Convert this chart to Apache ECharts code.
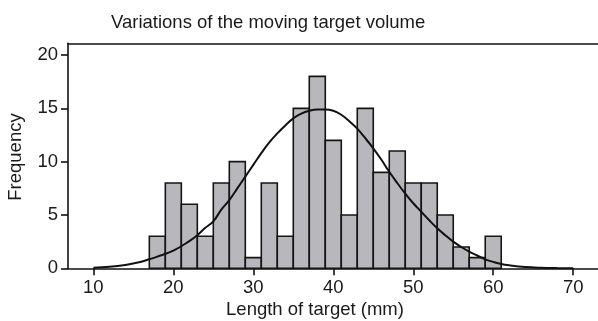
<!DOCTYPE html>
<html>
<head>
<meta charset="utf-8">
<script src="https://cdn.jsdelivr.net/npm/echarts@6/dist/echarts.min.js"></script>
<style>
html,body{margin:0;padding:0;background:#fff;}
#c{width:598px;height:321px;}
</style>
</head>
<body>
<div id="c"></div>
<script>
// Histogram bins (left edges, mm) and frequencies
const binStarts = [17,19,21,23,25,27,29,31,33,35,37,39,41,43,45,47,49,51,53,55,57,59];
const binWidth = 2;
const counts    = [3, 8, 6, 3, 8,10, 1, 8, 3,15,18,12, 5,15, 9,11, 8, 8, 5, 2, 1, 3];
// Fitted normal curve
const curveX = [10,12,14,16,17,18,20,22,23,24,25,26,27,28,29,30,31,32,33,34,35,36,37,38,39,40,41,42,43,44,45,46,47,48,49,50,51,52,53,54,55,56,57,58,59,60,61,62,64,66,68,70];
const curveY = [0.06,0.14,0.32,0.62,0.85,1.1,1.65,2.55,3.1,3.8,4.4,5.5,6.4,7.5,8.6,9.7,10.8,11.8,12.65,13.4,14.06,14.5,14.77,14.9,14.9,14.77,14.4,13.8,13.1,12.2,11.25,10.2,9.05,8.0,7.0,6.1,5.3,4.5,3.75,3.1,2.5,2.0,1.56,1.2,0.84,0.6,0.4,0.28,0.12,0.05,0.02,0.01];
const xTicks = [10,20,30,40,50,60,70];
const yTicks = [0,5,10,15,20];

const FONT = '"Liberation Sans", Arial, Helvetica, sans-serif';
const FS = 18.5;
const TXT = '#1a1a1a';
const chart = echarts.init(document.getElementById('c'), null, {renderer:'canvas'});

const histData = binStarts.map((s,i)=>[s, s+binWidth, counts[i]]);
const curveData = curveX.map((x,i)=>[x, curveY[i]]);

chart.setOption({
  animation:false,
  grid:{left:68, right:0, top:43.3, bottom:52.7, containLabel:false},
  graphic:[
    {type:'text', x:111, y:22.5, style:{text:'Variations of the moving target volume', font:FS+'px '+FONT, fill:TXT, textVerticalAlign:'middle', textAlign:'left'}},
    {type:'text', x:315, y:310, style:{text:'Length of target (mm)', font:FS+'px '+FONT, fill:TXT, textVerticalAlign:'middle', textAlign:'center'}},
    {type:'text', x:16, y:157, rotation:Math.PI/2, style:{text:'Frequency', font:FS+'px '+FONT, fill:TXT, textVerticalAlign:'middle', textAlign:'center'}}
  ],
  xAxis:[{
    type:'value', min:6.83, max:73.1, position:'bottom',
    splitLine:{show:false},
    axisLine:{show:true, onZero:false, lineStyle:{color:'#111', width:1.6}},
    axisTick:{show:true, length:7, lineStyle:{color:'#111', width:1.6}, customValues:xTicks},
    axisLabel:{show:true, margin:10, fontSize:FS, fontFamily:FONT, color:TXT, customValues:xTicks}
  },{
    type:'value', min:6.83, max:73.1, position:'top',
    splitLine:{show:false},
    axisLine:{show:true, onZero:false, lineStyle:{color:'#111', width:1.6}},
    axisTick:{show:false}, axisLabel:{show:false}
  }],
  yAxis:{
    type:'value', min:0, max:21.1, interval:5,
    splitLine:{show:false},
    axisLine:{show:true, onZero:false, lineStyle:{color:'#111', width:1.6}},
    axisTick:{show:true, length:7, lineStyle:{color:'#111', width:1.6}, customValues:yTicks},
    axisLabel:{show:true, margin:10, fontSize:FS, fontFamily:FONT, color:TXT, customValues:yTicks}
  },
  series:[{
    type:'custom',
    xAxisIndex:0,
    data:histData,
    renderItem:function(params, api){
      const p0 = api.coord([api.value(0), api.value(2)]);
      const p1 = api.coord([api.value(1), 0]);
      return {type:'rect', shape:{x:p0[0], y:p0[1], width:p1[0]-p0[0], height:p1[1]-p0[1]},
        style:{fill:'#b8b8bc', stroke:'#151515', lineWidth:1.6}};
    },
    encode:{x:[0,1], y:2},
    z:2
  },{
    type:'line',
    xAxisIndex:0,
    data:curveData,
    smooth:0.4,
    showSymbol:false,
    lineStyle:{color:'#111', width:2},
    z:3
  }]
});
</script>
</body>
</html>
